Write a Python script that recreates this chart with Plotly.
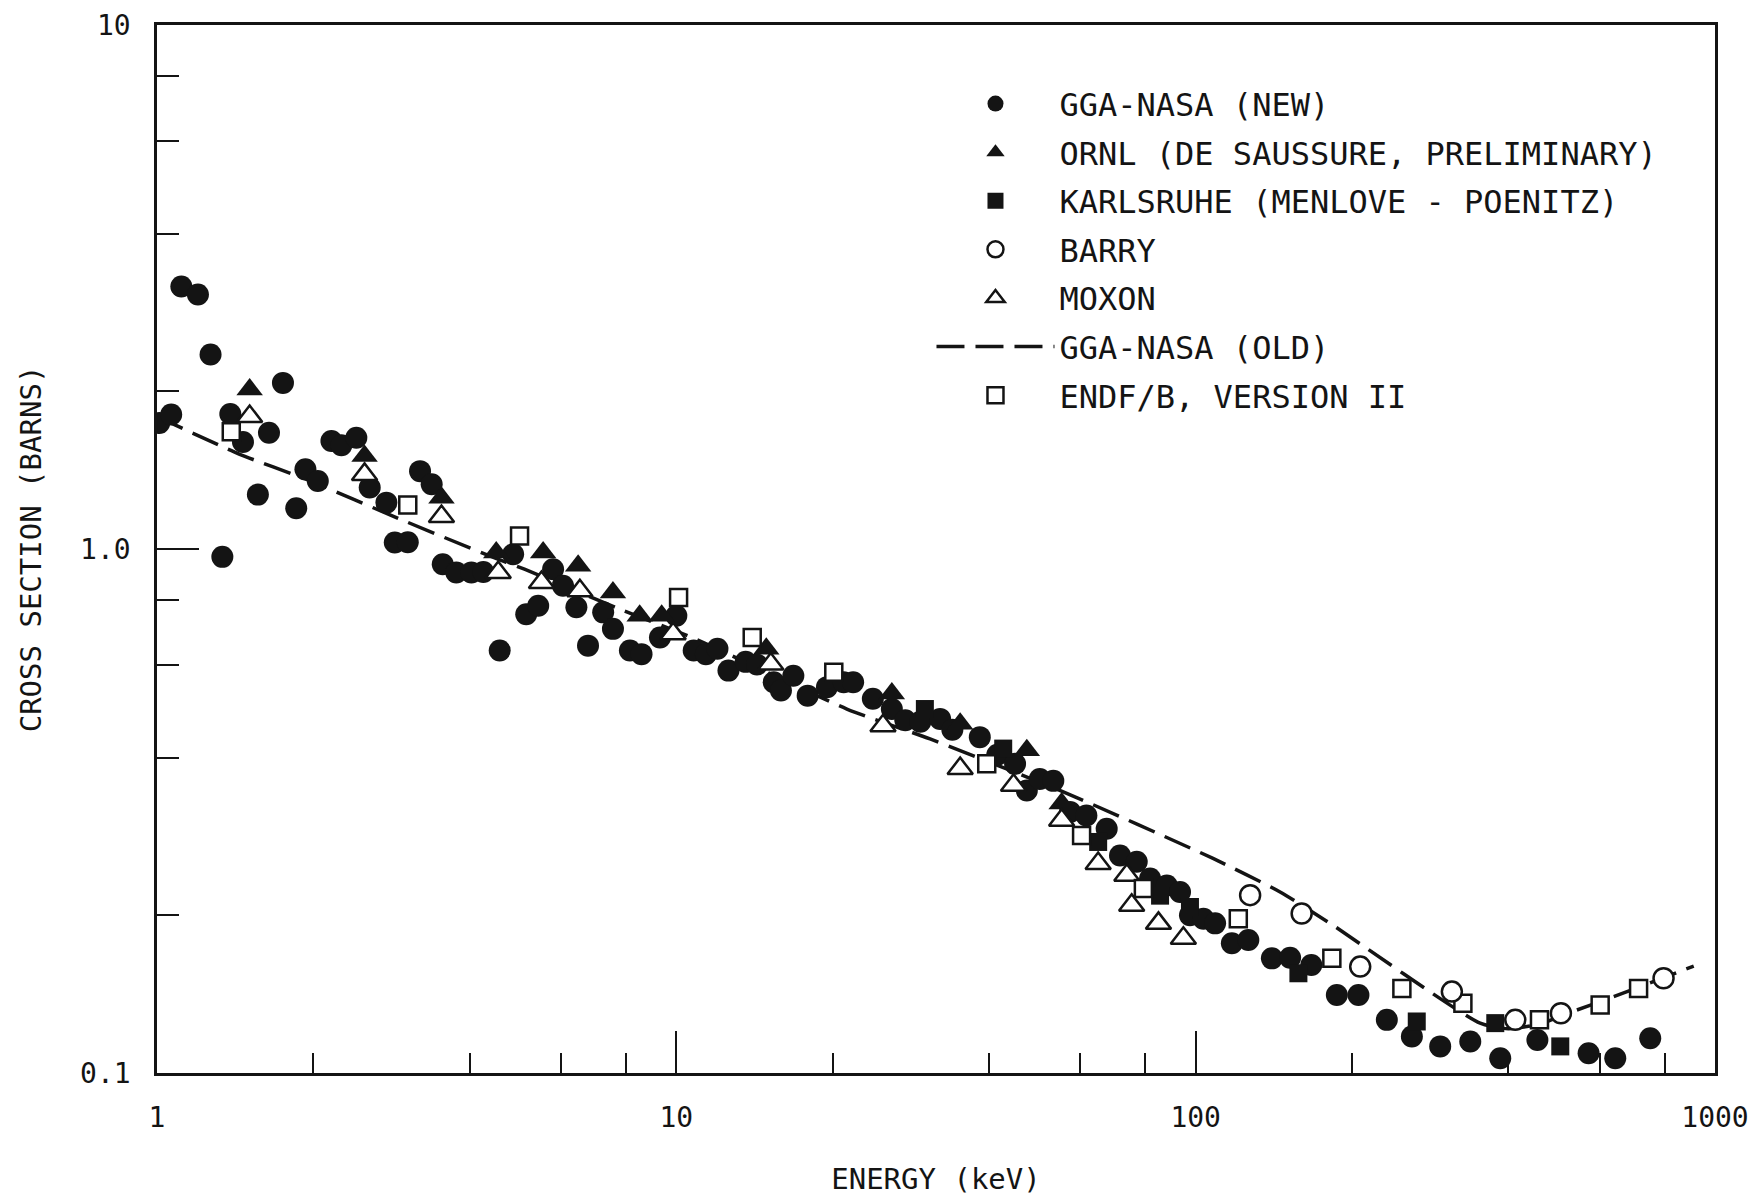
import plotly.graph_objects as go

# ---------------- data ----------------
# GGA-NASA (NEW) - filled circles
gga_new_e = [1.01, 1.065, 1.114, 1.199, 1.268, 1.336, 1.384, 1.464, 1.564, 1.643,
             1.748, 1.854, 1.931, 2.04, 2.167, 2.265, 2.42, 2.568, 2.765, 2.87,
             3.04, 3.21, 3.38, 3.55, 3.77, 4.03, 4.25, 4.57, 4.85, 5.14,
             5.42, 5.79, 6.05, 6.42, 6.76, 7.23, 7.55, 8.14, 8.57, 9.3,
             10.0, 10.8, 11.4, 12.0, 12.6, 13.6, 14.3, 15.4, 15.9, 16.8,
             17.9, 19.5, 21.0, 21.9, 23.9, 26.0, 27.6, 29.5, 32.2, 34.0,
             38.4, 41.5, 44.9, 47.3, 50.1, 53.2, 57.3, 61.6, 67.4, 71.5,
             77.0, 81.7, 88.0, 93.3, 97.5, 103.5, 109, 117.4, 126.3, 140.2,
             152, 167, 187, 205.8, 233.4, 260.8, 295.7, 337.9, 385.9, 455,
             571, 642.6, 750.4]
gga_new_s = [1.74, 1.806, 3.17, 3.06, 2.35, 0.966, 1.81, 1.60, 1.27, 1.667,
             2.075, 1.196, 1.419, 1.348, 1.607, 1.577, 1.631, 1.31, 1.226, 1.029,
             1.03, 1.408, 1.329, 0.935, 0.902, 0.902, 0.904, 0.64, 0.977, 0.751,
             0.779, 0.915, 0.851, 0.774, 0.654, 0.757, 0.704, 0.64, 0.63, 0.678,
             0.746, 0.64, 0.63, 0.645, 0.586, 0.609, 0.602, 0.557, 0.537, 0.573,
             0.525, 0.545, 0.557, 0.557, 0.518, 0.495, 0.471, 0.468, 0.474, 0.452,
             0.4375, 0.405, 0.389, 0.346, 0.364, 0.361, 0.315, 0.31, 0.2926, 0.260,
             0.253, 0.235, 0.228, 0.2216, 0.200, 0.197, 0.193, 0.1768, 0.1794, 0.1655,
             0.166, 0.1607, 0.1409, 0.1409, 0.1263, 0.1174, 0.1124, 0.1148, 0.1067, 0.1156,
             0.1091, 0.1067, 0.1165]

# ORNL (DE SAUSSURE, PRELIMINARY) - filled triangles
ornl_e = [1.508, 2.51, 3.53, 4.50, 5.54, 6.47, 7.55, 8.5, 9.37, 14.9, 26.0, 35.2, 47.3, 55.2]
ornl_s = [2.015, 1.504, 1.253, 0.985, 0.985, 0.929, 0.826, 0.746, 0.746, 0.645, 0.53, 0.464, 0.413, 0.327]

# KARLSRUHE (MENLOVE - POENITZ) - filled squares
karl_e = [30.1, 42.6, 64.9, 85.4, 97.5, 157.7, 266.5, 377.5, 503.6]
karl_s = [0.495, 0.416, 0.276, 0.218, 0.2074, 0.155, 0.1254, 0.1245, 0.1124]

# BARRY - open circles
barry_e = [127.3, 160, 207.4, 311.4, 412.5, 505, 796]
barry_s = [0.2185, 0.2016, 0.1596, 0.143, 0.1263, 0.130, 0.1516]

# MOXON - open triangles
moxon_e = [1.508, 2.51, 3.53, 4.54, 5.5, 6.52, 9.86, 15.2, 25.0, 35.2, 44.6, 55.2,
           64.9, 73.7, 75.3, 84.8, 94.7]
moxon_s = [1.79, 1.388, 1.153, 0.902, 0.863, 0.832, 0.689, 0.603, 0.46, 0.381, 0.354, 0.3035,
           0.251, 0.2385, 0.209, 0.193, 0.1807]

# GGA-NASA (OLD) - dashed curve
old_e = [1.0, 1.443, 1.94, 2.89, 4.37, 5.1, 7.78, 10.9, 21.3, 30.8, 55.6, 108,
         145.4, 181.5, 353, 400, 460, 510, 640, 910]
old_s = [1.79, 1.516, 1.358, 1.148, 0.970, 0.915, 0.768, 0.673, 0.495, 0.434, 0.344, 0.2567,
         0.2216, 0.193, 0.1245, 0.1215, 0.124, 0.129, 0.140, 0.160]

# ENDF/B, VERSION II - open squares
endf_e = [1.39, 3.04, 4.99, 10.1, 14.0, 20.1, 39.6, 60.3, 79.3, 120.8, 182.9, 249.5,
          327, 459.2, 601, 712.6]
endf_s = [1.674, 1.213, 1.059, 0.808, 0.678, 0.582, 0.389, 0.284, 0.225, 0.197, 0.1655, 0.145,
          0.1358, 0.1263, 0.1348, 0.145]

x_major = [1, 10, 100, 1000]
x_major_text = ["1", "10", "100", "1000"]
y_major = [0.1, 1, 10]
y_major_text = ["0.1", "1.0", "10"]
minor_mult = [2, 4, 6, 8]

# ---------------- styling ----------------
INK = "#141414"
FONT = "DejaVu Sans Mono, Liberation Mono, monospace"

fig = go.Figure()

fig.add_trace(go.Scatter(
    x=old_e, y=old_s, mode="lines", name="GGA-NASA (OLD)",
    line=dict(color=INK, width=3.5, dash="28px,11px", shape="spline", smoothing=0.6),
    legendrank=6, legendgroup="g6"))

fig.add_trace(go.Scatter(
    x=gga_new_e, y=gga_new_s, mode="markers", name="GGA-NASA (NEW)",
    marker=dict(symbol="circle", size=22, color=INK, line=dict(width=0)),
    legendrank=1, legendgroup="g1"))

fig.add_trace(go.Scatter(
    x=karl_e, y=karl_s, mode="markers", name="KARLSRUHE (MENLOVE - POENITZ)",
    marker=dict(symbol="square", size=18, color=INK, line=dict(width=0)),
    legendrank=3, legendgroup="g3"))

fig.add_trace(go.Scatter(
    x=ornl_e, y=ornl_s, mode="markers", name="ORNL (DE SAUSSURE, PRELIMINARY)",
    marker=dict(symbol="triangle-up", size=23, color=INK, line=dict(width=0)),
    legendrank=2, legendgroup="g2"))

fig.add_trace(go.Scatter(
    x=moxon_e, y=moxon_s, mode="markers", name="MOXON",
    marker=dict(symbol="triangle-up", size=22, color="white", line=dict(width=2.5, color=INK)),
    legendrank=5, legendgroup="g5"))

fig.add_trace(go.Scatter(
    x=endf_e, y=endf_s, mode="markers", name="ENDF/B, VERSION II",
    marker=dict(symbol="square", size=17, color="white", line=dict(width=2.5, color=INK)),
    legendrank=7, legendgroup="g7"))

fig.add_trace(go.Scatter(
    x=barry_e, y=barry_s, mode="markers", name="BARRY",
    marker=dict(symbol="circle", size=20, color="white", line=dict(width=2.5, color=INK)),
    legendrank=4, legendgroup="g4"))

x_minor = [m * d for d in [1, 10, 100] for m in minor_mult]
y_minor = [m * d for d in [0.1, 1] for m in minor_mult]

axis_common = dict(
    showgrid=False, zeroline=False, showline=True, linecolor=INK, linewidth=2.5,
    mirror=True, ticks="inside", tickcolor=INK, tickwidth=2, ticklen=42,
    tickfont=dict(family=FONT, size=28, color=INK), automargin=False,
)

fig.update_layout(
    width=1763, height=1196,
    margin=dict(l=157, r=48, t=25, b=123),
    paper_bgcolor="white", plot_bgcolor="white",
    font=dict(family=FONT, color=INK),
    showlegend=True,
    legend=dict(
        x=0.4971, y=0.9511, xanchor="left", yanchor="top",
        font=dict(family=FONT, size=32, color=INK),
        itemwidth=118, tracegroupgap=4, traceorder="grouped",
        bgcolor="rgba(0,0,0,0)", borderwidth=0,
    ),
    xaxis=dict(
        type="log", range=[0, 3],
        tickmode="array", tickvals=x_major, ticktext=x_major_text,
        ticklabelstandoff=18,
        minor=dict(tickmode="array", tickvals=x_minor, ticks="inside", ticklen=20,
                   tickwidth=2, tickcolor=INK, showgrid=False),
        title=dict(text="ENERGY (keV)", font=dict(family=FONT, size=29, color=INK), standoff=44),
        **axis_common,
    ),
    yaxis=dict(
        type="log", range=[-1, 1],
        tickmode="array", tickvals=y_major, ticktext=y_major_text,
        ticklabelstandoff=18,
        minor=dict(tickmode="array", tickvals=y_minor, ticks="inside", ticklen=22,
                   tickwidth=2, tickcolor=INK, showgrid=False),
        title=dict(text="CROSS SECTION (BARNS)", font=dict(family=FONT, size=29, color=INK), standoff=30),
        **axis_common,
    ),
)

fig.write_html("out.html")
